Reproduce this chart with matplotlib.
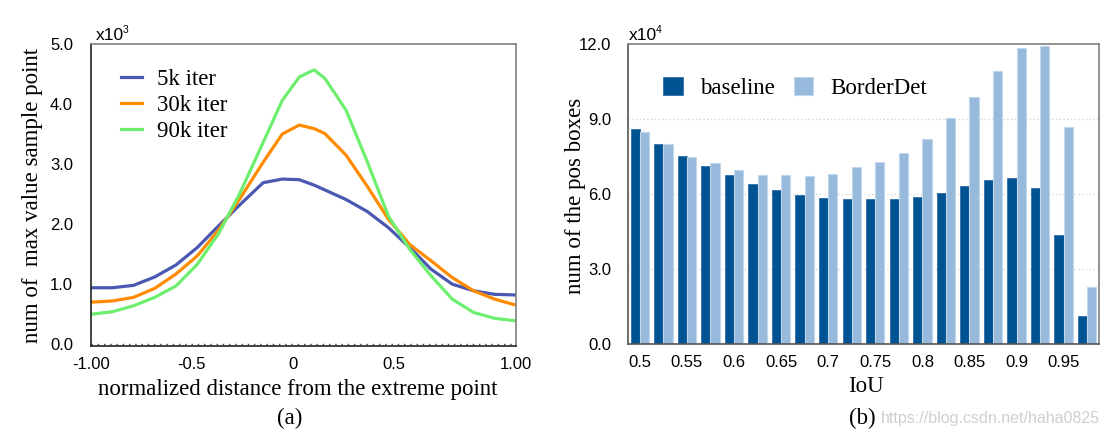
import matplotlib
matplotlib.use('Agg')
import matplotlib.pyplot as plt
from matplotlib.patches import Patch

SERIF = ['Liberation Serif', 'DejaVu Serif']
SANS = ['Liberation Sans', 'DejaVu Sans']

# ---------------- Panel (a) data ----------------
axis_pos = [0, 0.05, 0.1, 0.15, 0.2, 0.25, 0.3, 0.35, 0.405, 0.45, 0.49, 0.525,
            0.55, 0.6, 0.65, 0.7, 0.75, 0.8, 0.85, 0.9, 0.95, 1.0]
iter5k = [0.94, 0.94, 0.98, 1.12, 1.32, 1.61, 1.97, 2.32, 2.69, 2.75, 2.74, 2.65,
          2.57, 2.41, 2.21, 1.94, 1.61, 1.25, 1.00, 0.89, 0.83, 0.82]
iter30k = [0.70, 0.72, 0.78, 0.93, 1.17, 1.47, 1.90, 2.42, 3.03, 3.50, 3.65, 3.59,
           3.51, 3.15, 2.63, 2.08, 1.66, 1.39, 1.11, 0.89, 0.75, 0.65]
iter90k = [0.50, 0.54, 0.64, 0.78, 0.97, 1.33, 1.84, 2.51, 3.36, 4.06, 4.45, 4.57,
           4.43, 3.90, 3.04, 2.13, 1.58, 1.14, 0.75, 0.53, 0.43, 0.39]
a_xtick_pos = [0, 0.2375, 0.475, 0.7125, 1.0]
a_xtick_labels = ['-1.00', '-0.5', '0', '0.5', '1.00']
a_yticks = [0, 1, 2, 3, 4, 5]
a_ytick_labels = ['0.0', '1.0', '2.0', '3.0', '4.0', '5.0']

# ---------------- Panel (b) data ----------------
baseline = [8.60, 7.99, 7.53, 7.13, 6.76, 6.40, 6.15, 5.95, 5.83, 5.79,
            5.79, 5.79, 5.88, 6.05, 6.31, 6.56, 6.65, 6.24, 4.36, 1.11]
borderdet = [8.49, 7.99, 7.48, 7.23, 6.97, 6.76, 6.76, 6.72, 6.81, 7.08,
             7.27, 7.64, 8.20, 9.03, 9.88, 10.91, 11.83, 11.92, 8.67, 2.27]
b_xtick_labels = ['0.5', '0.55', '0.6', '0.65', '0.7', '0.75', '0.8', '0.85', '0.9', '0.95']
b_yticks = [0, 3, 6, 9, 12]
b_ytick_labels = ['0.0', '3.0', '6.0', '9.0', '12.0']

W, H = 1108, 441
fig = plt.figure(figsize=(W / 100, H / 100), dpi=100)

def fx(px):
    return px / W

def fy(py):
    return 1 - py / H

TICK_FS = 12
LAB_FS = 16.5

# ---------------- Panel (a) ----------------
axA = fig.add_axes([fx(91), fy(346), fx(516) - fx(91), fy(44) - fy(346)])
c5, c30, c90 = '#4B58B2', '#FF8C00', '#6EEE6E'
axA.plot(axis_pos, iter5k, color=c5, lw=2.3, label='5k iter', solid_joinstyle='round')
axA.plot(axis_pos, iter30k, color=c30, lw=2.3, label='30k iter', solid_joinstyle='round')
axA.plot(axis_pos, iter90k, color=c90, lw=2.3, label='90k iter', solid_joinstyle='round')
axA.set_xlim(0, 1)
axA.set_ylim(-0.03, 5)
axA.axhline(0, color='#444444', lw=1.0, ls=(0, (1, 3.5)), zorder=0)
axA.set_xticks(a_xtick_pos)
axA.set_xticklabels(a_xtick_labels, family=SANS, fontsize=TICK_FS)
axA.set_yticks(a_yticks)
axA.set_yticklabels(a_ytick_labels, family=SANS, fontsize=TICK_FS)
axA.tick_params(axis='both', length=0)
axA.tick_params(axis='x', pad=8)
axA.tick_params(axis='y', pad=13)
for s in ['left', 'bottom']:
    axA.spines[s].set_color('#222222')
    axA.spines[s].set_linewidth(1.2)
for s in ['top', 'right']:
    axA.spines[s].set_color('#808080')
    axA.spines[s].set_linewidth(1.2)
axA.legend(loc='upper left', bbox_to_anchor=(0.05, 0.947), frameon=False,
           prop={'family': SERIF, 'size': LAB_FS}, handlelength=0.9,
           handletextpad=0.65, labelspacing=0.22, borderaxespad=0)
fig.text(fx(96), fy(44) + 0.003, 'x10', family=SANS, fontsize=12.5, ha='left', va='bottom')
fig.text(fx(123), fy(30), '3', family=SANS, fontsize=7.5, ha='left', va='center')
fig.text(fx(298), fy(389), 'normalized distance from the extreme point', family=SERIF,
         fontsize=LAB_FS, ha='center', va='center')
fig.text(fx(290), fy(418), '(a)', family=SERIF, fontsize=LAB_FS, ha='center', va='center')
fig.text(fx(33), fy(195), 'num of  max value sample point', family=SERIF, fontsize=LAB_FS,
         ha='center', va='center', rotation=90)

# ---------------- Panel (b) ----------------
axB = fig.add_axes([fx(628), fy(344), fx(1099) - fx(628), fy(44) - fy(344)])
dark, light = '#005393', '#96B9DC'
n = len(baseline)
idx = list(range(n))
bw = 0.39
axB.bar([i - bw / 2 for i in idx], baseline, width=bw, color=dark, edgecolor='#2F6FA6',
        linewidth=0.6, label='baseline', zorder=2)
axB.bar([i + bw / 2 for i in idx], borderdet, width=bw, color=light, edgecolor='#C3D7EC',
        linewidth=0.8, label='BorderDet', zorder=2)
axB.set_xlim(-0.5, n - 0.5)
axB.set_ylim(0, 12)
axB.set_yticks(b_yticks)
axB.set_yticklabels(b_ytick_labels, family=SANS, fontsize=TICK_FS)
axB.set_xticks(idx[::2])
axB.set_xticklabels(b_xtick_labels, family=SANS, fontsize=TICK_FS)
axB.tick_params(axis='both', length=0)
axB.tick_params(axis='x', pad=8)
axB.tick_params(axis='y', pad=12)
for yv in [3, 6, 9]:
    axB.axhline(yv, color='#D0D0D0', lw=0.9, ls=(0, (1, 2)), zorder=1)
for s in ['left', 'bottom']:
    axB.spines[s].set_color('#555555')
    axB.spines[s].set_linewidth(1.2)
for s in ['top', 'right']:
    axB.spines[s].set_color('#808080')
    axB.spines[s].set_linewidth(1.2)
handles = [Patch(facecolor=dark, edgecolor='#2F6FA6', linewidth=0.6),
           Patch(facecolor=light, edgecolor='#C3D7EC', linewidth=0.8)]
axB.legend(handles, ['baseline', 'BorderDet'], loc='upper left', ncol=2,
           bbox_to_anchor=(0.055, 0.92), frameon=False,
           prop={'family': SERIF, 'size': LAB_FS}, handlelength=0.85, handleheight=0.85,
           handletextpad=0.75, columnspacing=0.85, borderaxespad=0)
fig.text(fx(629), fy(44) + 0.003, 'x10', family=SANS, fontsize=12.5, ha='left', va='bottom')
fig.text(fx(656), fy(30), '4', family=SANS, fontsize=7.5, ha='left', va='center')
fig.text(fx(866), fy(387), 'IoU', family=SERIF, fontsize=LAB_FS, ha='center', va='center')
fig.text(fx(862), fy(418), '(b)', family=SERIF, fontsize=LAB_FS, ha='center', va='center')
fig.text(fx(576), fy(196), 'num of the pos boxes', family=SERIF, fontsize=LAB_FS,
         ha='center', va='center', rotation=90)
fig.text(fx(1100), fy(419), 'https://blog.csdn.net/haha0825', family=SANS, fontsize=11.5,
         color='#CFCFCF', ha='right', va='center')

fig.savefig('out.png', dpi=100)
